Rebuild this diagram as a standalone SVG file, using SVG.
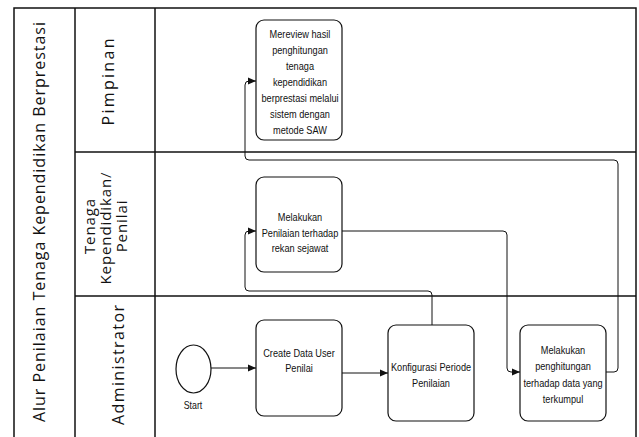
<svg xmlns="http://www.w3.org/2000/svg" width="639" height="437" viewBox="0 0 639 437">
<defs>
<style>
.frame{fill:none;stroke:#111;stroke-width:1.5}
.box{fill:#fff;stroke:#111;stroke-width:1.2}
.conn{fill:none;stroke:#111;stroke-width:1}
.lane{font-family:"Open Sans","DejaVu Sans",sans-serif;font-size:16px;fill:#111;text-anchor:middle}
.lane2{font-family:"Open Sans","DejaVu Sans",sans-serif;font-size:15px;letter-spacing:0.9px;fill:#111;text-anchor:middle}
.bt{font-family:"Liberation Sans",Arial,sans-serif;font-size:11.5px;fill:#111;text-anchor:middle}
</style>
<marker id="arr" markerWidth="8" markerHeight="8" refX="8" refY="4" orient="auto" markerUnits="userSpaceOnUse">
<path d="M0,0.5 L8,4 L0,7.5 z" fill="#111"/>
</marker>
</defs>
<rect width="639" height="437" fill="#fff"/>
<g id="pool">
<rect class="frame" x="14" y="8" width="622" height="445"/>
<line class="frame" x1="75" y1="8" x2="75" y2="440"/>
<line class="frame" x1="155" y1="8" x2="155" y2="440"/>
<line class="frame" x1="75" y1="152" x2="636" y2="152"/>
<line class="frame" x1="75" y1="296" x2="636" y2="296"/>
<text class="lane" transform="translate(45,222) rotate(-90)" textLength="400" lengthAdjust="spacing">Alur Penilaian Tenaga Kependidikan Berprestasi</text>
<text class="lane" transform="translate(114,82) rotate(-90)" textLength="87" lengthAdjust="spacing">Pimpinan</text>
<text class="lane2" transform="translate(95,226) rotate(-90)">Tenaga</text>
<text class="lane2" transform="translate(111,228) rotate(-90)">Kependidikan/</text>
<text class="lane2" transform="translate(127,226) rotate(-90)">Penilai</text>
<text class="lane" transform="translate(124,365) rotate(-90)" textLength="120" lengthAdjust="spacing">Administrator</text>
</g>
<g id="connectors">
<path class="conn" d="M211,368 H256" marker-end="url(#arr)"/>
<path class="conn" d="M342,373 H388" marker-end="url(#arr)"/>
<path class="conn" d="M432,325 V295 Q432,291 428,291 H249 Q245,291 245,287 V235 Q245,231 249,231 H256" marker-end="url(#arr)"/>
<path class="conn" d="M342,231 H503 Q507,231 507,235 V368 Q507,372 511,372 H520" marker-end="url(#arr)"/>
<path class="conn" d="M606,372 H614 Q618,372 618,368 V164 Q618,160 614,160 H249 Q245,160 245,156 V85 Q245,81 249,81 H256" marker-end="url(#arr)"/>
</g>
<g id="start">
<ellipse class="box" cx="193.5" cy="369" rx="17.5" ry="24"/>
<text class="bt" style="font-size:11px" transform="translate(193,409) scale(0.8,1)">Start</text>
</g>
<g id="review">
<rect class="box" x="256" y="20" width="86" height="120" rx="8"/>
<text class="bt" transform="translate(300,38) scale(0.8,1)">Mereview hasil</text>
<text class="bt" transform="translate(300,54) scale(0.8,1)">penghitungan</text>
<text class="bt" transform="translate(300,70) scale(0.8,1)">tenaga</text>
<text class="bt" transform="translate(300,86) scale(0.8,1)">kependidikan</text>
<text class="bt" transform="translate(300,102) scale(0.8,1)">berprestasi melalui</text>
<text class="bt" transform="translate(300,118) scale(0.8,1)">sistem dengan</text>
<text class="bt" transform="translate(300,134) scale(0.8,1)">metode SAW</text>
</g>
<g id="penilaian">
<rect class="box" x="256" y="177" width="86" height="95" rx="8"/>
<text class="bt" transform="translate(300,221) scale(0.8,1)">Melakukan</text>
<text class="bt" transform="translate(300,237) scale(0.8,1)">Penilaian terhadap</text>
<text class="bt" transform="translate(300,252) scale(0.8,1)">rekan sejawat</text>
</g>
<g id="create">
<rect class="box" x="256" y="320" width="86" height="96" rx="8"/>
<text class="bt" transform="translate(299,357) scale(0.8,1)">Create Data User</text>
<text class="bt" transform="translate(299,372) scale(0.8,1)">Penilai</text>
</g>
<g id="konfigurasi">
<rect class="box" x="388" y="325" width="86" height="96" rx="8"/>
<text class="bt" transform="translate(431,371) scale(0.8,1)">Konfigurasi Periode</text>
<text class="bt" transform="translate(431,387) scale(0.8,1)">Penilaian</text>
</g>
<g id="penghitungan">
<rect class="box" x="520" y="325" width="86" height="96" rx="8"/>
<text class="bt" transform="translate(563,354) scale(0.8,1)">Melakukan</text>
<text class="bt" transform="translate(563,370) scale(0.8,1)">penghitungan</text>
<text class="bt" transform="translate(563,387) scale(0.8,1)">terhadap data yang</text>
<text class="bt" transform="translate(563,403) scale(0.8,1)">terkumpul</text>
</g>
</svg>
